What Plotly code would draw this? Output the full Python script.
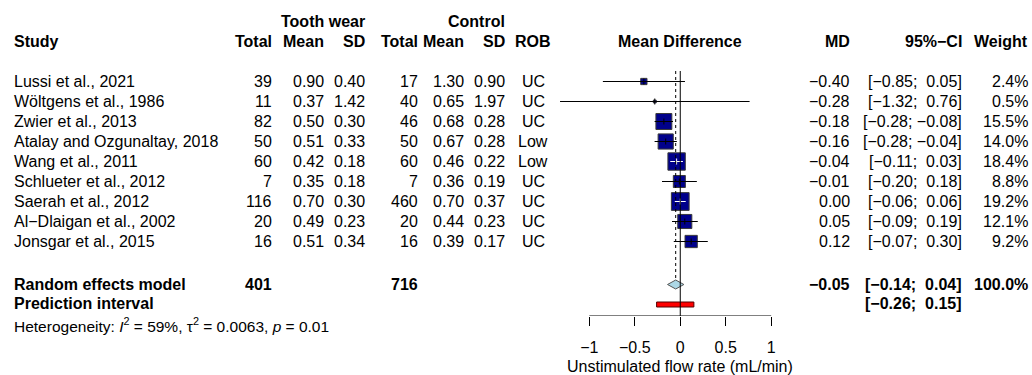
import plotly.graph_objects as go
import math

# ---------------- data ----------------
studies = ["Lussi et al., 2021", "Wöltgens et al., 1986", "Zwier et al., 2013",
           "Atalay and Ozgunaltay, 2018", "Wang et al., 2011", "Schlueter et al., 2012",
           "Saerah et al., 2012", "Al\u2212Dlaigan et al., 2002", "Jonsgar et al., 2015"]
tw_total = [39, 11, 82, 50, 60, 7, 116, 20, 16]
tw_mean = [0.90, 0.37, 0.50, 0.51, 0.42, 0.35, 0.70, 0.49, 0.51]
tw_sd = [0.40, 1.42, 0.30, 0.33, 0.18, 0.18, 0.30, 0.23, 0.34]
c_total = [17, 40, 46, 50, 60, 7, 460, 20, 16]
c_mean = [1.30, 0.65, 0.68, 0.67, 0.46, 0.36, 0.70, 0.44, 0.39]
c_sd = [0.90, 1.97, 0.28, 0.28, 0.22, 0.19, 0.37, 0.23, 0.17]
rob = ["UC", "UC", "UC", "Low", "Low", "UC", "UC", "UC", "UC"]
md = [-0.40, -0.28, -0.18, -0.16, -0.04, -0.01, 0.00, 0.05, 0.12]
ci_lo = [-0.85, -1.32, -0.28, -0.28, -0.11, -0.20, -0.06, -0.09, -0.07]
ci_hi = [0.05, 0.76, -0.08, -0.04, 0.03, 0.18, 0.06, 0.19, 0.30]
weight = [2.4, 0.5, 15.5, 14.0, 18.4, 8.8, 19.2, 12.1, 9.2]

tw_sum_total = 401
c_sum_total = 716
re_md, re_lo, re_hi = -0.05, -0.14, 0.04
pi_lo, pi_hi = -0.26, 0.15
het_i2, het_tau2, het_p = "59%", "0.0063", "0.01"
x_ticks = [-1, -0.5, 0, 0.5, 1]
x_title = "Unstimulated flow rate (mL/min)"

# ---------------- layout helpers ----------------
W, H = 1032, 375
X0PX, XSCALE = 680.25, 90.95      # pixel of x=0, pixels per unit
AXIS_Y = 316.0                     # pixel row of x axis line
row_y = [81.5 + 20 * i for i in range(len(studies))]
RE_Y, PI_Y = 284.5, 304.5
FONT = "Liberation Sans, Arial, Helvetica, sans-serif"
FS = 16


def fmt(v):
    s = f"{v:.2f}"
    return s.replace("-", "\u2212")


def fmt_ci(lo, hi):
    a = fmt(lo)
    b = fmt(hi)
    if lo >= 0:
        a = " " + a
    if hi >= 0:
        b = " " + b
    return f"[{a}; {b}]"


def px(xpix):
    return xpix / W


def py(ypix):
    return 1 - ypix / H


fig = go.Figure()

# CI lines
xs, ys = [], []
for lo, hi, y in zip(ci_lo, ci_hi, row_y):
    xs += [lo, hi, None]
    ys += [y, y, None]
fig.add_trace(go.Scatter(x=xs, y=ys, mode="lines", line=dict(color="black", width=1),
                         hoverinfo="skip", showlegend=False))

# squares
sides = [4.05 * math.sqrt(w) for w in weight]
fig.add_trace(go.Scatter(x=md, y=row_y, mode="markers",
                         marker=dict(symbol="square", size=sides, color="#00008B", opacity=1,
                                     line=dict(color="#3a3a3a", width=1)),
                         hoverinfo="skip", showlegend=False))

# lines drawn over squares (white when the CI lies inside the square)
for col in ["white", "black"]:
    xs, ys = [], []
    for m, lo, hi, y, s in zip(md, ci_lo, ci_hi, row_y, sides):
        inside = (hi - lo) * XSCALE < s
        c = "white" if inside else "black"
        if c != col:
            continue
        xs += [lo, hi, None, m, m, None]
        ys += [y, y, None, y - 3, y + 3, None]
    if xs:
        fig.add_trace(go.Scatter(x=xs, y=ys, mode="lines", line=dict(color=col, width=1),
                                 hoverinfo="skip", showlegend=False))

# diamond for random effects model
fig.add_trace(go.Scatter(x=[re_lo, re_md, re_hi, re_md, re_lo],
                         y=[RE_Y, RE_Y - 4.5, RE_Y, RE_Y + 4.5, RE_Y],
                         mode="lines", fill="toself", fillcolor="lightblue",
                         line=dict(color="#555555", width=1), hoverinfo="skip", showlegend=False))

# prediction interval bar
fig.add_trace(go.Scatter(x=[pi_lo, pi_hi, pi_hi, pi_lo, pi_lo],
                         y=[PI_Y - 2.5, PI_Y - 2.5, PI_Y + 2.5, PI_Y + 2.5, PI_Y - 2.5],
                         mode="lines", fill="toself", fillcolor="red",
                         line=dict(color="#550000", width=1), hoverinfo="skip", showlegend=False))

# reference lines and axis line
fig.add_shape(type="line", xref="x", yref="y", x0=0, x1=0, y0=71, y1=AXIS_Y,
              line=dict(color="black", width=1))
fig.add_shape(type="line", xref="x", yref="y", x0=re_md, x1=re_md, y0=71, y1=RE_Y - 4.5,
              line=dict(color="black", width=1, dash="dot"))
fig.add_shape(type="line", xref="x", yref="y", x0=min(x_ticks), x1=max(x_ticks), y0=AXIS_Y, y1=AXIS_Y,
              line=dict(color="black", width=1))

ann = []


def txt(x, y, s, anchor="right", bold=False, size=FS, xref="paper"):
    if bold:
        s = f"<b>{s}</b>"
    ann.append(dict(x=x if xref != "paper" else px(x), y=py(y), xref=xref, yref="paper",
                    text=s, showarrow=False, xanchor=anchor, yanchor="middle",
                    font=dict(family=FONT, size=size, color="black"), borderpad=0))


# column right edges (pixels)
C_STUDY = 12.5
C_TT, C_TM, C_TS = 273, 325, 366
C_CT, C_CM, C_CS = 419, 465, 506
C_ROB = 533
C_MD, C_CI, C_W = 851, 963, 1029

# headers
txt(C_TS, 21, "Tooth wear", bold=True)
txt(C_CS, 21, "Control", bold=True)
txt(C_STUDY, 41.5, "Study", anchor="left", bold=True)
for c, s in [(C_TT, "Total"), (C_TM, "Mean"), (C_TS, "SD"), (C_CT, "Total"),
             (C_CM, "Mean"), (C_CS, "SD"), (C_MD, "MD"), (C_CI, "95%\u2212CI"), (C_W, "Weight")]:
    txt(c, 41.5, s, bold=True)
txt(C_ROB, 41.5, "ROB", anchor="center", bold=True)
txt(0, 41.5, "Mean Difference", anchor="center", bold=True, xref="x")

# study rows
for i, y in enumerate(row_y):
    txt(C_STUDY, y, studies[i], anchor="left")
    txt(C_TT, y, str(tw_total[i]))
    txt(C_TM, y, f"{tw_mean[i]:.2f}")
    txt(C_TS, y, f"{tw_sd[i]:.2f}")
    txt(C_CT, y, str(c_total[i]))
    txt(C_CM, y, f"{c_mean[i]:.2f}")
    txt(C_CS, y, f"{c_sd[i]:.2f}")
    txt(C_ROB, y, rob[i], anchor="center")
    txt(C_MD, y, fmt(md[i]))
    txt(C_CI, y, fmt_ci(ci_lo[i], ci_hi[i]).replace(" ", "\u00a0"))
    txt(C_W, y, f"{weight[i]:.1f}%")

# summary rows
txt(C_STUDY, RE_Y - 0.5, "Random effects model", anchor="left", bold=True)
txt(C_TT, RE_Y - 0.5, str(tw_sum_total), bold=True)
txt(C_CT, RE_Y - 0.5, str(c_sum_total), bold=True)
txt(C_MD, RE_Y - 0.5, fmt(re_md), bold=True)
txt(C_CI, RE_Y - 0.5, fmt_ci(re_lo, re_hi).replace(" ", "\u00a0"), bold=True)
txt(C_W, RE_Y - 0.5, "100.0%", bold=True)
txt(C_STUDY, PI_Y - 1, "Prediction interval", anchor="left", bold=True)
txt(C_CI, PI_Y - 1, fmt_ci(pi_lo, pi_hi).replace(" ", "\u00a0"), bold=True)
txt(C_STUDY, 325, f"Heterogeneity: <i>I</i><sup>2</sup> = {het_i2}, \u03c4<sup>2</sup> = {het_tau2}, <i>p</i> = {het_p}",
    anchor="left", size=15.5)

# axis title
txt(0, 366.5, x_title, anchor="center", xref="x")

fig.update_layout(
    width=W, height=H, margin=dict(l=0, r=0, t=0, b=0),
    paper_bgcolor="white", plot_bgcolor="white",
    annotations=ann,
    xaxis=dict(domain=[0, 1], range=[-X0PX / XSCALE, (W - X0PX) / XSCALE],
               showgrid=False, zeroline=False, showline=False,
               tickmode="array", tickvals=x_ticks, ticks="outside", ticklen=9,
               tickwidth=1, tickcolor="black", ticklabelstandoff=8,
               tickfont=dict(family=FONT, size=FS, color="black")),
    yaxis=dict(domain=[1 - AXIS_Y / H, 1], range=[AXIS_Y, 0], visible=False),
)

fig.write_html("out.html", config={"displayModeBar": False},
               post_script="document.body.style.margin='0';document.body.style.overflow='hidden';")
